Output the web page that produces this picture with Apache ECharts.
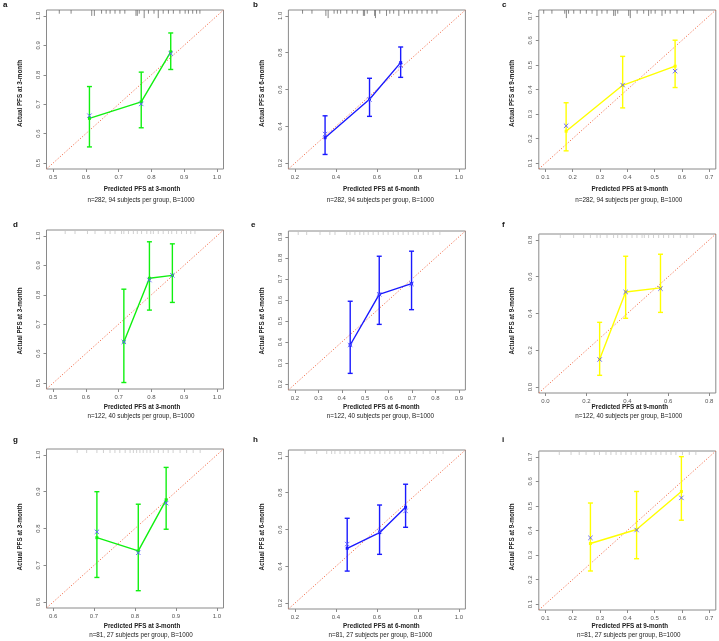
<!DOCTYPE html>
<html><head><meta charset="utf-8">
<script src="https://cdn.jsdelivr.net/npm/echarts@6/dist/echarts.min.js"></script>
<style>html,body{margin:0;padding:0;background:#fff}#c{width:719px;height:641px}</style>
</head><body><div id="c"></div>
<script>
// ---------- data ----------
const letters = ['a','b','c','d','e','f','g','h','i'];
const xTitles = ['Predicted PFS at 3-month','Predicted PFS at 6-month','Predicted PFS at 9-month'];
const yTitles = ['Actual PFS at 3-month','Actual PFS at 6-month','Actual PFS at 9-month'];
const subTitles = ['n=282, 94 subjects per group, B=1000','n=122, 40 subjects per group, B=1000','n=81, 27 subjects per group, B=1000'];

const ticks_a = [0.5,0.6,0.7,0.8,0.9,1.0];
const ticks_b = [0.2,0.4,0.6,0.8,1.0];
const ticks_c = [0.1,0.2,0.3,0.4,0.5,0.6,0.7];
const ticks_d = [0.5,0.6,0.7,0.8,0.9,1.0];
const ticks_e = [0.2,0.3,0.4,0.5,0.6,0.7,0.8,0.9];
const ticks_f = [0.0,0.2,0.4,0.6,0.8];
const ticks_g = [0.6,0.7,0.8,0.9,1.0];
const ticks_h = [0.2,0.4,0.6,0.8,1.0];
const ticks_i = [0.1,0.2,0.3,0.4,0.5,0.6,0.7];

const pred_a = [0.611,0.769,0.859], obs_a = [0.652,0.708,0.878], lo_a = [0.555,0.620,0.818], hi_a = [0.760,0.809,0.942], bc_a = [0.661,0.701,0.872];
const pred_b = [0.347,0.564,0.716], obs_b = [0.338,0.547,0.746], lo_b = [0.247,0.454,0.666], hi_b = [0.457,0.661,0.831], bc_b = [0.358,0.545,0.730];
const pred_c = [0.176,0.383,0.575], obs_c = [0.230,0.417,0.495], lo_c = [0.150,0.325,0.408], hi_c = [0.346,0.535,0.601], bc_c = [0.252,0.418,0.475];
const pred_d = [0.716,0.794,0.864], obs_d = [0.640,0.856,0.866], lo_d = [0.502,0.748,0.774], hi_d = [0.819,0.980,0.973], bc_d = [0.640,0.850,0.866];
const pred_e = [0.436,0.560,0.698], obs_e = [0.386,0.627,0.678], lo_e = [0.251,0.484,0.554], hi_e = [0.594,0.808,0.832], bc_e = [0.386,0.627,0.676];
const pred_f = [0.265,0.392,0.562], obs_f = [0.152,0.517,0.539], lo_f = [0.064,0.374,0.406], hi_f = [0.352,0.711,0.722], bc_f = [0.150,0.517,0.535];
const pred_g = [0.707,0.808,0.876], obs_g = [0.775,0.739,0.878], lo_g = [0.667,0.631,0.798], hi_g = [0.900,0.866,0.966], bc_g = [0.791,0.734,0.869];
const pred_h = [0.455,0.613,0.740], obs_h = [0.498,0.583,0.721], lo_h = [0.374,0.465,0.612], hi_h = [0.661,0.733,0.846], bc_h = [0.521,0.590,0.701];
const pred_i = [0.265,0.434,0.598], obs_i = [0.347,0.404,0.559], lo_i = [0.235,0.285,0.442], hi_i = [0.512,0.559,0.701], bc_i = [0.370,0.402,0.533];

// rug (distribution of predicted values) positions and counts
const rug_a = [0.519,0.555,0.618,0.626,0.648,0.662,0.674,0.689,0.704,0.719,0.753,0.757,0.763,0.778,0.791,0.808,0.821,0.836,0.852,0.867,0.887,0.903,0.913,0.926,0.938,0.948];
const rugN_a = [1,1,2,2,1,1,1,1,1,1,2,2,1,3,1,1,3,1,1,1,1,1,1,1,1,1];
const rug_b = [0.237,0.283,0.351,0.362,0.391,0.407,0.423,0.453,0.480,0.504,0.534,0.540,0.553,0.589,0.593,0.614,0.647,0.663,0.682,0.707,0.734,0.755,0.772,0.796,0.820,0.845,0.869,0.893];
const rugN_b = [1,1,2,3,1,1,1,1,1,1,2,2,1,2,3,1,2,1,1,2,1,1,1,1,1,1,1,1];
const rug_c = [0.094,0.124,0.171,0.177,0.185,0.204,0.228,0.250,0.271,0.289,0.307,0.326,0.350,0.356,0.365,0.405,0.411,0.436,0.460,0.478,0.487,0.502,0.527,0.539,0.557,0.582,0.606,0.643];
const rugN_c = [1,1,1,3,1,1,1,1,1,2,1,1,2,2,1,2,3,1,1,2,1,1,2,1,1,1,1,1];
const rug_d = [0.537,0.567,0.605,0.628,0.659,0.674,0.689,0.709,0.716,0.730,0.745,0.757,0.770,0.786,0.798,0.806,0.821,0.836,0.852,0.862,0.877,0.892,0.907,0.920,0.933];
const rug_e = [0.214,0.250,0.307,0.349,0.371,0.421,0.435,0.456,0.477,0.494,0.513,0.534,0.556,0.577,0.598,0.620,0.641,0.662,0.684,0.705,0.726,0.748,0.769,0.790,0.819];
const rug_f = [0.073,0.138,0.187,0.220,0.252,0.268,0.301,0.333,0.353,0.374,0.398,0.423,0.447,0.472,0.483,0.504,0.528,0.553,0.577,0.602,0.626,0.659,0.691,0.724];
const rug_g = [0.659,0.682,0.707,0.723,0.739,0.751,0.763,0.776,0.788,0.796,0.804,0.812,0.820,0.829,0.837,0.846,0.857,0.869,0.881,0.893,0.910,0.926,0.942,0.959];
const rug_h = [0.249,0.306,0.355,0.379,0.395,0.420,0.444,0.468,0.493,0.517,0.541,0.566,0.590,0.615,0.639,0.663,0.688,0.712,0.737,0.761,0.794,0.826,0.859,0.891,0.923];
const rug_i = [0.151,0.194,0.224,0.249,0.279,0.298,0.322,0.340,0.359,0.377,0.395,0.414,0.432,0.450,0.468,0.487,0.505,0.523,0.542,0.560,0.578,0.602,0.627,0.651];

const panels = [
  {t:ticks_a,p:pred_a,o:obs_a,l:lo_a,h:hi_a,b:bc_a,r:rug_a,n:rugN_a},
  {t:ticks_b,p:pred_b,o:obs_b,l:lo_b,h:hi_b,b:bc_b,r:rug_b,n:rugN_b},
  {t:ticks_c,p:pred_c,o:obs_c,l:lo_c,h:hi_c,b:bc_c,r:rug_c,n:rugN_c},
  {t:ticks_d,p:pred_d,o:obs_d,l:lo_d,h:hi_d,b:bc_d,r:rug_d},
  {t:ticks_e,p:pred_e,o:obs_e,l:lo_e,h:hi_e,b:bc_e,r:rug_e},
  {t:ticks_f,p:pred_f,o:obs_f,l:lo_f,h:hi_f,b:bc_f,r:rug_f},
  {t:ticks_g,p:pred_g,o:obs_g,l:lo_g,h:hi_g,b:bc_g,r:rug_g},
  {t:ticks_h,p:pred_h,o:obs_h,l:lo_h,h:hi_h,b:bc_h,r:rug_h},
  {t:ticks_i,p:pred_i,o:obs_i,l:lo_i,h:hi_i,b:bc_i,r:rug_i}
];

// ---------- layout & style ----------
const colColors = ['#10f010','#1a1aff','#ffff00'];
const bcColor = '#5a5aff';
const gridLeft = [46.5, 288.4, 538.8];
const gridTop = [[10,10,10],[230,231,234],[449,450,451]];
const gridW = 177, gridH = 159;
const xTitleDx = [95.5, 93, 91];
const xTitleY = [189, 407.5, 626.7];
const subY = [200, 416.7, 635.7];
const yTitleX = [20.5, 262, 512.3];
const yTitleY = [93.5, 321, 537];
const letterPos = [[3,5],[253,5],[502,5],[13,225],[251,225],[502,225],[13,440],[253,440],[502,440]];
const FONT = 'Liberation Sans, Arial, sans-serif';

const grids=[], xAxes=[], yAxes=[], series=[], graphics=[];
panels.forEach((P, k) => {
  const row = Math.floor(k/3), col = k%3;
  const color = colColors[col];
  const t0 = P.t[0], t1 = P.t[P.t.length-1], ext = 0.04*(t1-t0);
  const mn = t0-ext, mx = t1+ext;
  grids.push({left:gridLeft[col], top:gridTop[row][col], width:gridW, height:gridH,
    show:true, borderColor:'#8a8a8a', borderWidth:1, backgroundColor:'transparent', containLabel:false});
  const common = {type:'value', gridIndex:k, min:mn, max:mx, splitLine:{show:false},
    axisLine:{show:false, onZero:false},
    axisTick:{show:true, inside:false, length:3, customValues:P.t, lineStyle:{color:'#8a8a8a'}},
    axisLabel:{customValues:P.t, formatter:v=>v.toFixed(1), fontSize:6, color:'#555', fontFamily:FONT, margin:5}};
  xAxes.push(Object.assign({}, common, {position:'bottom'}));
  yAxes.push(Object.assign({}, common, {position:'left', axisLabel:Object.assign({}, common.axisLabel, {rotate:90, margin:5})}));
  // diagonal
  series.push({type:'line', xAxisIndex:k, yAxisIndex:k, data:[[mn,mn],[mx,mx]], symbol:'none', silent:true,
    lineStyle:{color:'#f2704f', width:1, type:[1.2,1.8]}, z:1});
  // rug
  const rugData = P.r.map((v,j)=>[v, P.n ? P.n[j] : 1]);
  const rugColor = row===0 ? '#6a6a6a' : '#c4c4c4';
  series.push({type:'custom', xAxisIndex:k, yAxisIndex:k, data:rugData, silent:true, z:2,
    encode:{x:0},
    renderItem:(params, api)=>{
      const px = api.coord([api.value(0), mx]);
      const top = params.coordSys.y;
      const len = row===0 ? 1.5 + 2.2*api.value(1) : 4;
      return {type:'line', shape:{x1:px[0], y1:top, x2:px[0], y2:top+len}, style:{stroke:rugColor, lineWidth:0.8}};
    }});
  // error bars
  const ebData = P.p.map((x,j)=>[x, P.l[j], P.h[j]]);
  series.push({type:'custom', xAxisIndex:k, yAxisIndex:k, data:ebData, silent:true, z:3,
    encode:{x:0, y:[1,2]},
    renderItem:(params, api)=>{
      const a = api.coord([api.value(0), api.value(1)]);
      const b = api.coord([api.value(0), api.value(2)]);
      const w = 2.5, st = {stroke:color, lineWidth:1.4};
      return {type:'group', children:[
        {type:'line', shape:{x1:a[0],y1:a[1],x2:b[0],y2:b[1]}, style:st},
        {type:'line', shape:{x1:a[0]-w,y1:a[1],x2:a[0]+w,y2:a[1]}, style:st},
        {type:'line', shape:{x1:b[0]-w,y1:b[1],x2:b[0]+w,y2:b[1]}, style:st}
      ]};
    }});
  // observed line
  series.push({type:'line', xAxisIndex:k, yAxisIndex:k, data:P.p.map((x,j)=>[x,P.o[j]]), silent:true, z:4,
    symbol:'rect', symbolSize:3, showSymbol:true, lineStyle:{color:color, width:1.4}, itemStyle:{color:color}});
  // bias-corrected x marks
  series.push({type:'custom', xAxisIndex:k, yAxisIndex:k, data:P.p.map((x,j)=>[x,P.b[j]]), silent:true, z:5,
    encode:{x:0, y:1},
    renderItem:(params, api)=>{
      const c = api.coord([api.value(0), api.value(1)]);
      const s = 2.2, st = {stroke:bcColor, lineWidth:0.9};
      return {type:'group', children:[
        {type:'line', shape:{x1:c[0]-s,y1:c[1]-s,x2:c[0]+s,y2:c[1]+s}, style:st},
        {type:'line', shape:{x1:c[0]-s,y1:c[1]+s,x2:c[0]+s,y2:c[1]-s}, style:st}
      ]};
    }});
  // texts
  graphics.push({type:'text', x:gridLeft[col]+xTitleDx[col], y:xTitleY[row],
    style:{text:xTitles[col], textAlign:'center', textVerticalAlign:'middle', font:'bold 6.3px '+FONT, fill:'#222'}});
  graphics.push({type:'text', x:gridLeft[col]+xTitleDx[col]-1, y:subY[row],
    style:{text:subTitles[row], textAlign:'center', textVerticalAlign:'middle', font:'6.3px '+FONT, fill:'#222'}});
  graphics.push({type:'text', x:yTitleX[col], y:yTitleY[row], rotation:Math.PI/2,
    style:{text:yTitles[col], textAlign:'center', textVerticalAlign:'middle', font:'bold 6.3px '+FONT, fill:'#222'}});
  graphics.push({type:'text', x:letterPos[k][0], y:letterPos[k][1],
    style:{text:letters[k], textAlign:'left', textVerticalAlign:'middle', font:'bold 8px '+FONT, fill:'#111'}});
});

const chart = echarts.init(document.getElementById('c'), null, {renderer:'canvas'});
chart.setOption({animation:false, backgroundColor:'#fff', grid:grids, xAxis:xAxes, yAxis:yAxes, series:series, graphic:graphics});
</script></body></html>
